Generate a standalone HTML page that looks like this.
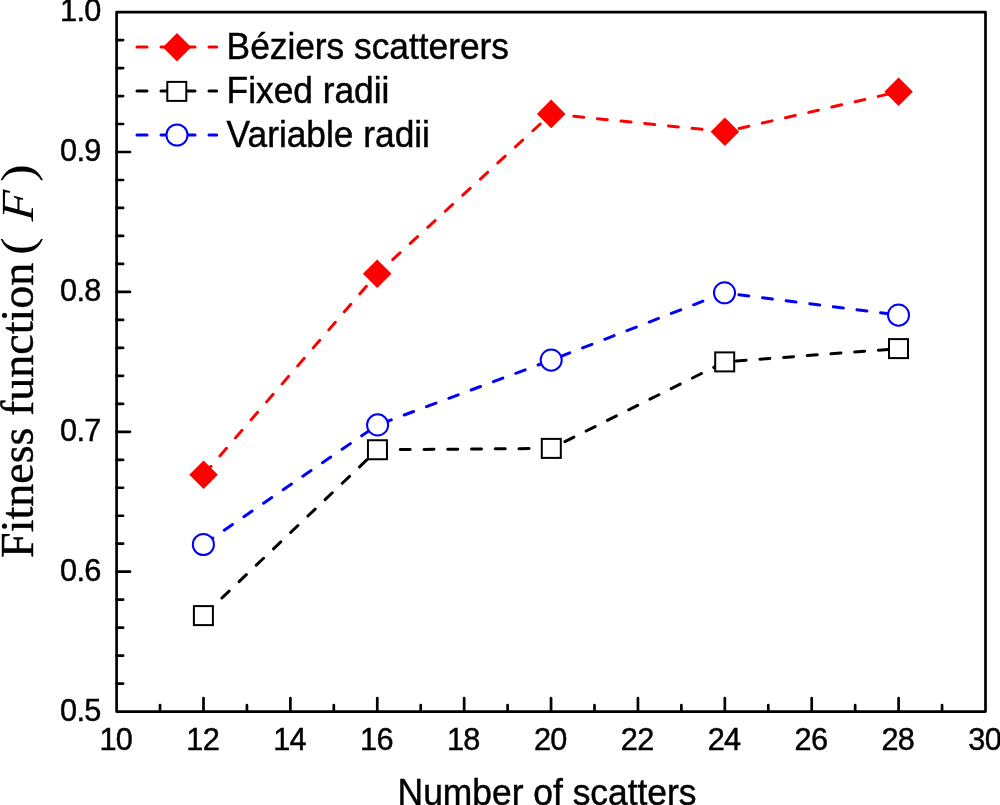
<!DOCTYPE html>
<html lang="en"><head><meta charset="utf-8"><title>Fitness function vs number of scatters</title>
<style>html,body{margin:0;padding:0;background:#fff;}body{width:1000px;height:805px;overflow:hidden;}svg{display:block;}
text{font-family:"Liberation Sans",Arial,sans-serif;fill:#000;}
.ser{font-family:"Liberation Serif","Times New Roman",serif;}
</style></head><body>
<svg width="1000" height="805" viewBox="0 0 1000 805">
<rect x="0" y="0" width="1000" height="805" fill="#ffffff"/>
<g stroke="#000" stroke-width="2.7" stroke-linecap="round" fill="none">
<line x1="116.60" y1="683.62" x2="123.10" y2="683.62"/>
<line x1="116.60" y1="655.64" x2="123.10" y2="655.64"/>
<line x1="116.60" y1="627.66" x2="123.10" y2="627.66"/>
<line x1="116.60" y1="599.68" x2="123.10" y2="599.68"/>
<line x1="116.60" y1="571.70" x2="130.00" y2="571.70"/>
<line x1="116.60" y1="543.72" x2="123.10" y2="543.72"/>
<line x1="116.60" y1="515.74" x2="123.10" y2="515.74"/>
<line x1="116.60" y1="487.76" x2="123.10" y2="487.76"/>
<line x1="116.60" y1="459.78" x2="123.10" y2="459.78"/>
<line x1="116.60" y1="431.80" x2="130.00" y2="431.80"/>
<line x1="116.60" y1="403.82" x2="123.10" y2="403.82"/>
<line x1="116.60" y1="375.84" x2="123.10" y2="375.84"/>
<line x1="116.60" y1="347.86" x2="123.10" y2="347.86"/>
<line x1="116.60" y1="319.88" x2="123.10" y2="319.88"/>
<line x1="116.60" y1="291.90" x2="130.00" y2="291.90"/>
<line x1="116.60" y1="263.92" x2="123.10" y2="263.92"/>
<line x1="116.60" y1="235.94" x2="123.10" y2="235.94"/>
<line x1="116.60" y1="207.96" x2="123.10" y2="207.96"/>
<line x1="116.60" y1="179.98" x2="123.10" y2="179.98"/>
<line x1="116.60" y1="152.00" x2="130.00" y2="152.00"/>
<line x1="116.60" y1="124.02" x2="123.10" y2="124.02"/>
<line x1="116.60" y1="96.04" x2="123.10" y2="96.04"/>
<line x1="116.60" y1="68.06" x2="123.10" y2="68.06"/>
<line x1="116.60" y1="40.08" x2="123.10" y2="40.08"/>
<line x1="160.04" y1="711.60" x2="160.04" y2="705.10"/>
<line x1="203.49" y1="711.60" x2="203.49" y2="698.20"/>
<line x1="246.93" y1="711.60" x2="246.93" y2="705.10"/>
<line x1="290.38" y1="711.60" x2="290.38" y2="698.20"/>
<line x1="333.82" y1="711.60" x2="333.82" y2="705.10"/>
<line x1="377.27" y1="711.60" x2="377.27" y2="698.20"/>
<line x1="420.72" y1="711.60" x2="420.72" y2="705.10"/>
<line x1="464.16" y1="711.60" x2="464.16" y2="698.20"/>
<line x1="507.61" y1="711.60" x2="507.61" y2="705.10"/>
<line x1="551.05" y1="711.60" x2="551.05" y2="698.20"/>
<line x1="594.50" y1="711.60" x2="594.50" y2="705.10"/>
<line x1="637.94" y1="711.60" x2="637.94" y2="698.20"/>
<line x1="681.38" y1="711.60" x2="681.38" y2="705.10"/>
<line x1="724.83" y1="711.60" x2="724.83" y2="698.20"/>
<line x1="768.27" y1="711.60" x2="768.27" y2="705.10"/>
<line x1="811.72" y1="711.60" x2="811.72" y2="698.20"/>
<line x1="855.16" y1="711.60" x2="855.16" y2="705.10"/>
<line x1="898.61" y1="711.60" x2="898.61" y2="698.20"/>
<line x1="942.05" y1="711.60" x2="942.05" y2="705.10"/>
</g>
<rect x="116.60" y="12.10" width="868.90" height="699.50" fill="none" stroke="#000" stroke-width="2.7" stroke-linejoin="round"/>
<polyline points="203.60,474.80 377.20,273.80 551.20,113.90 724.90,131.70 898.60,91.70" fill="none" stroke="#ff0000" stroke-width="3" stroke-dasharray="10 13.79" stroke-dashoffset="-1.2" stroke-linecap="round" stroke-linejoin="round"/>
<path d="M189.30 474.80L203.60 460.50L217.90 474.80L203.60 489.10Z" fill="#ff0000"/>
<path d="M362.90 273.80L377.20 259.50L391.50 273.80L377.20 288.10Z" fill="#ff0000"/>
<path d="M536.90 113.90L551.20 99.60L565.50 113.90L551.20 128.20Z" fill="#ff0000"/>
<path d="M710.60 131.70L724.90 117.40L739.20 131.70L724.90 146.00Z" fill="#ff0000"/>
<path d="M884.30 91.70L898.60 77.40L912.90 91.70L898.60 106.00Z" fill="#ff0000"/>
<polyline points="203.40,615.60 377.45,449.75 551.30,448.40 724.70,361.90 898.50,348.60" fill="none" stroke="#000000" stroke-width="3" stroke-dasharray="10 13.76" stroke-dashoffset="-1.8" stroke-linecap="round" stroke-linejoin="round"/>
<rect x="193.90" y="606.10" width="19.0" height="19.0" fill="#fff" stroke="#000" stroke-width="2"/>
<rect x="367.95" y="440.25" width="19.0" height="19.0" fill="#fff" stroke="#000" stroke-width="2"/>
<rect x="541.80" y="438.90" width="19.0" height="19.0" fill="#fff" stroke="#000" stroke-width="2"/>
<rect x="715.20" y="352.40" width="19.0" height="19.0" fill="#fff" stroke="#000" stroke-width="2"/>
<rect x="889.00" y="339.10" width="19.0" height="19.0" fill="#fff" stroke="#000" stroke-width="2"/>
<polyline points="203.40,544.50 377.60,424.90 551.20,360.10 724.50,292.80 898.50,315.10" fill="none" stroke="#0000ff" stroke-width="3" stroke-dasharray="10 13.82" stroke-dashoffset="-1.5" stroke-linecap="round" stroke-linejoin="round"/>
<circle cx="203.40" cy="544.50" r="10.55" fill="#fff" stroke="#0000ff" stroke-width="2"/>
<circle cx="377.60" cy="424.90" r="10.55" fill="#fff" stroke="#0000ff" stroke-width="2"/>
<circle cx="551.20" cy="360.10" r="10.55" fill="#fff" stroke="#0000ff" stroke-width="2"/>
<circle cx="724.50" cy="292.80" r="10.55" fill="#fff" stroke="#0000ff" stroke-width="2"/>
<circle cx="898.50" cy="315.10" r="10.55" fill="#fff" stroke="#0000ff" stroke-width="2"/>
<line x1="137.0" y1="47.0" x2="216.7" y2="47.0" stroke="#ff0000" stroke-width="3" stroke-dasharray="10 14" stroke-linecap="round"/>
<path d="M162.80 47.30L177.00 33.10L191.20 47.30L177.00 61.50Z" fill="#ff0000"/>
<text transform="translate(226.60 59.10) scale(1 1.04)" font-size="35.3" text-anchor="start" stroke="#000" stroke-width="0.45">Béziers scatterers</text>
<line x1="137.0" y1="91.0" x2="216.7" y2="91.0" stroke="#000000" stroke-width="3" stroke-dasharray="10 14" stroke-linecap="round"/>
<rect x="167.30" y="81.90" width="19.0" height="19.0" fill="#fff" stroke="#000" stroke-width="2"/>
<text transform="translate(226.60 102.90) scale(1 1.04)" font-size="35.3" text-anchor="start" stroke="#000" stroke-width="0.45">Fixed radii</text>
<line x1="137.0" y1="135.0" x2="216.7" y2="135.0" stroke="#0000ff" stroke-width="3" stroke-dasharray="10 14" stroke-linecap="round"/>
<circle cx="177.00" cy="135.00" r="10.55" fill="#fff" stroke="#0000ff" stroke-width="2"/>
<text transform="translate(226.60 146.70) scale(1 1.04)" font-size="35.3" text-anchor="start" stroke="#000" stroke-width="0.45">Variable radii</text>
<text transform="translate(100.60 720.90) scale(1 1.02)" font-size="30.7" text-anchor="end" letter-spacing="-0.7" stroke="#000" stroke-width="0.45">0.5</text>
<text transform="translate(100.60 581.00) scale(1 1.02)" font-size="30.7" text-anchor="end" letter-spacing="-0.7" stroke="#000" stroke-width="0.45">0.6</text>
<text transform="translate(100.60 441.10) scale(1 1.02)" font-size="30.7" text-anchor="end" letter-spacing="-0.7" stroke="#000" stroke-width="0.45">0.7</text>
<text transform="translate(100.60 301.20) scale(1 1.02)" font-size="30.7" text-anchor="end" letter-spacing="-0.7" stroke="#000" stroke-width="0.45">0.8</text>
<text transform="translate(100.60 161.30) scale(1 1.02)" font-size="30.7" text-anchor="end" letter-spacing="-0.7" stroke="#000" stroke-width="0.45">0.9</text>
<text transform="translate(100.60 21.40) scale(1 1.02)" font-size="30.7" text-anchor="end" letter-spacing="-0.7" stroke="#000" stroke-width="0.45">1.0</text>
<text transform="translate(115.80 749.90) scale(1 1.02)" font-size="30.7" text-anchor="middle" letter-spacing="-0.7" stroke="#000" stroke-width="0.45">10</text>
<text transform="translate(202.69 749.90) scale(1 1.02)" font-size="30.7" text-anchor="middle" letter-spacing="-0.7" stroke="#000" stroke-width="0.45">12</text>
<text transform="translate(289.58 749.90) scale(1 1.02)" font-size="30.7" text-anchor="middle" letter-spacing="-0.7" stroke="#000" stroke-width="0.45">14</text>
<text transform="translate(376.47 749.90) scale(1 1.02)" font-size="30.7" text-anchor="middle" letter-spacing="-0.7" stroke="#000" stroke-width="0.45">16</text>
<text transform="translate(463.36 749.90) scale(1 1.02)" font-size="30.7" text-anchor="middle" letter-spacing="-0.7" stroke="#000" stroke-width="0.45">18</text>
<text transform="translate(550.25 749.90) scale(1 1.02)" font-size="30.7" text-anchor="middle" letter-spacing="-0.7" stroke="#000" stroke-width="0.45">20</text>
<text transform="translate(637.14 749.90) scale(1 1.02)" font-size="30.7" text-anchor="middle" letter-spacing="-0.7" stroke="#000" stroke-width="0.45">22</text>
<text transform="translate(724.03 749.90) scale(1 1.02)" font-size="30.7" text-anchor="middle" letter-spacing="-0.7" stroke="#000" stroke-width="0.45">24</text>
<text transform="translate(810.92 749.90) scale(1 1.02)" font-size="30.7" text-anchor="middle" letter-spacing="-0.7" stroke="#000" stroke-width="0.45">26</text>
<text transform="translate(897.81 749.90) scale(1 1.02)" font-size="30.7" text-anchor="middle" letter-spacing="-0.7" stroke="#000" stroke-width="0.45">28</text>
<text transform="translate(984.70 749.90) scale(1 1.02)" font-size="30.7" text-anchor="middle" letter-spacing="-0.7" stroke="#000" stroke-width="0.45">30</text>
<text transform="translate(397.60 804.80) scale(1 1.05)" font-size="35.4" text-anchor="start" stroke="#000" stroke-width="0.45">Number of scatters</text>
<g class="ser" transform="translate(33.0 0) rotate(-90)" font-size="46">
<text class="ser" x="-557.9" y="0" stroke="#000" stroke-width="0.4">Fitness function</text>
<text class="ser" transform="translate(-254.9 0) scale(1.16 1)">(</text>
<text class="ser" transform="translate(-221.5 0) skewX(-5) scale(1.04 1)" font-style="italic">F</text>
<text class="ser" transform="translate(-182.0 0) scale(1.16 1)">)</text>
</g>
</svg></body></html>
